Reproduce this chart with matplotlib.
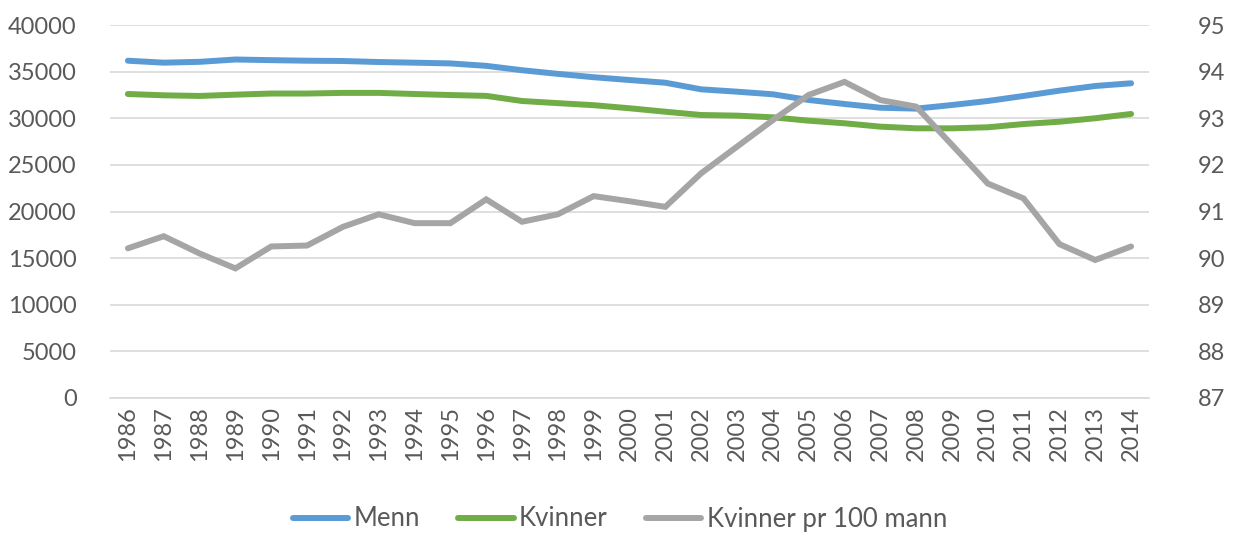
import numpy as np
from matplotlib import pyplot as plt

years = list(range(1986, 2015))

menn = [36170, 35960, 36050, 36300, 36230, 36170, 36140, 36030, 35960, 35880,
        35620, 35150, 34760, 34400, 34100, 33810, 33100, 32850, 32570, 31960,
        31530, 31130, 31030, 31420, 31850, 32390, 32960, 33460, 33750]

kvinner = [32600, 32460, 32390, 32530, 32650, 32650, 32720, 32720, 32600, 32490,
           32400, 31850, 31620, 31400, 31070, 30700, 30350, 30280, 30100, 29740,
           29460, 29100, 28920, 28920, 29030, 29380, 29630, 30000, 30460]

ratio = [90.21, 90.47, 90.10, 89.78, 90.25, 90.27, 90.67, 90.94, 90.75, 90.75,
         91.26, 90.78, 90.94, 91.33, 91.22, 91.10, 91.82, 92.39, 92.96, 93.50,
         93.78, 93.39, 93.25, 92.43, 91.60, 91.28, 90.30, 89.96, 90.25]

plt.rcParams['font.family'] = ['Lato', 'DejaVu Sans']
text_col = '#595959'

fig = plt.figure(figsize=(12.33, 5.34), dpi=100)
ax = fig.add_axes([110/1233, 1-398/534, (1149-110)/1233, (398-25)/534])
ax2 = ax.twinx()

x = np.arange(len(years))
l1, = ax.plot(x, menn, color='#5B9BD5', lw=4.3, solid_capstyle='round', label='Menn')
l2, = ax.plot(x, kvinner, color='#70AD47', lw=4.3, solid_capstyle='round', label='Kvinner')
l3, = ax2.plot(x, ratio, color='#A5A5A5', lw=4.3, solid_capstyle='round',
               solid_joinstyle='miter', label='Kvinner pr 100 mann')

ax.set_xlim(-0.5, len(years) - 0.5)
ax.set_ylim(0, 40000)
ax.set_yticks(range(0, 40001, 5000))
ax2.set_ylim(87, 95)
ax2.set_yticks(range(87, 96))

ax.set_xticks(x)
ax.set_xticklabels([str(y) for y in years], rotation=90)
ax.grid(axis='y', color='#D9D9D9', lw=1.2)
ax.set_axisbelow(True)

for a in (ax, ax2):
    for s in a.spines.values():
        s.set_visible(False)
    a.tick_params(length=0, labelsize=17, labelcolor=text_col)
ax.spines['bottom'].set_visible(True)
ax.spines['bottom'].set_color('#D9D9D9')
ax.spines['bottom'].set_linewidth(1.2)
ax.tick_params(axis='y', pad=24)
ax.tick_params(axis='x', pad=6)
ax2.tick_params(axis='y', pad=35)

fig.legend(handles=[l1, l2, l3], loc='center', bbox_to_anchor=(620/1233, 1-519/534),
           ncol=3, frameon=False, fontsize=18.5, handlelength=2.15, handletextpad=0.2,
           columnspacing=1.5, labelcolor=text_col)

fig.savefig('out.png', dpi=100)
